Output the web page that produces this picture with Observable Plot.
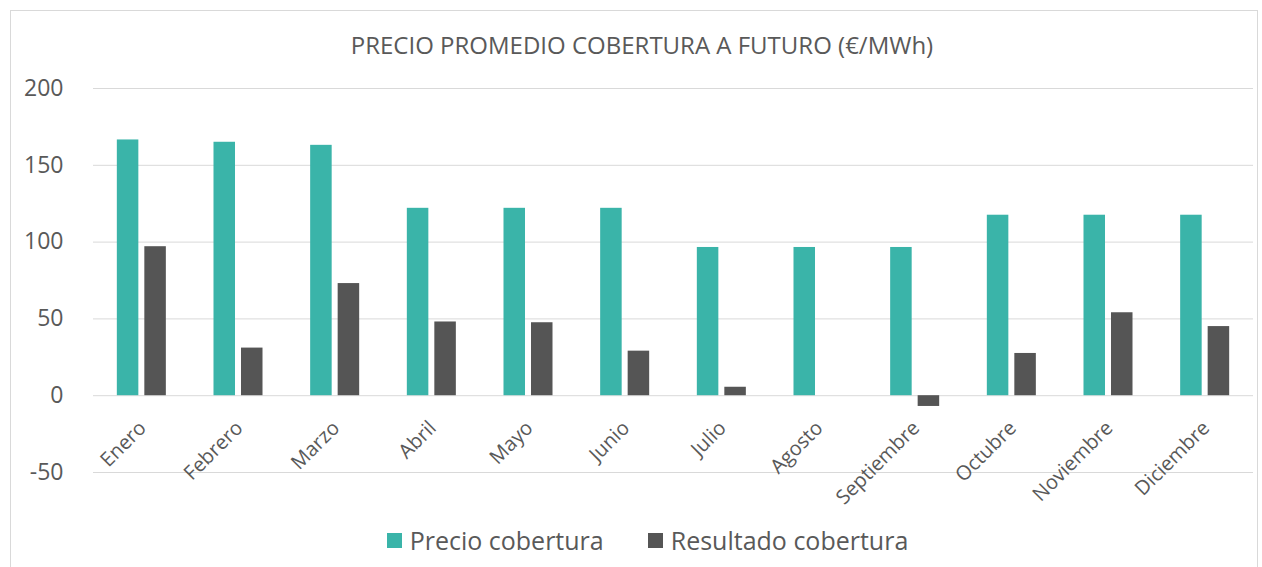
<!DOCTYPE html>
<html>
<head>
<meta charset="utf-8">
<script src="https://cdn.jsdelivr.net/npm/d3@7"></script>
<script src="https://cdn.jsdelivr.net/npm/@observablehq/plot@0.6"></script>
<style>
  html, body { margin: 0; padding: 0; background: #fff; }
  body { width: 1262px; height: 567px; overflow: hidden; position: relative; font-family: "Open Sans", sans-serif; color: #595959; }
  #frame { position: absolute; left: 10px; top: 10px; width: 1246px; height: 600px; border: 1px solid #D9D9D9; pointer-events: none; }
  #title { height: 70px; box-sizing: border-box; padding-top: 30px; text-align: center; font-size: 24px; line-height: 30px; padding-left: 22px; white-space: nowrap; }
  #chart svg { display: block; overflow: visible; }
  #legend { height: 40px; display: flex; justify-content: center; align-items: center; font-size: 25px; padding-left: 33px; }
  .item { display: flex; align-items: center; margin: 0 22px; }
  .sw { width: 15px; height: 15px; margin-right: 8px; }
</style>
</head>
<body>
<div id="frame"></div>
<div id="title"></div>
<div id="chart"></div>
<div id="legend"></div>
<script>
const titleText = "PRECIO PROMEDIO COBERTURA A FUTURO (€/MWh)";
const months = ["Enero", "Febrero", "Marzo", "Abril", "Mayo", "Junio", "Julio", "Agosto", "Septiembre", "Octubre", "Noviembre", "Diciembre"];
const series = ["Precio cobertura", "Resultado cobertura"];
const precioCobertura = [166.5, 165, 163, 122, 122, 122, 96.5, 96.5, 96.5, 117.5, 117.5, 117.5];
const resultadoCobertura = [97, 31, 73, 48, 47.5, 29, 5.5, 0, -7, 27.5, 54, 45];
const yTicks = [-50, 0, 50, 100, 150, 200];
const colors = ["#3AB4A9", "#555555"];

const precioData = months.map((m, i) => ({month: m, series: series[0], value: precioCobertura[i]}));
const resultadoData = months.map((m, i) => ({month: m, series: series[1], value: resultadoCobertura[i]}));

document.getElementById("title").textContent = titleText;

const chart = Plot.plot({
  width: 1262,
  height: 450,
  marginTop: 18,
  marginBottom: 48,
  marginLeft: 93,
  marginRight: 9,
  style: {fontFamily: "'Open Sans', sans-serif", color: "#595959", background: "transparent", overflow: "visible"},
  x: {domain: months, paddingInner: 0.493, paddingOuter: 0.2465, round: false, axis: null, label: null},
  y: {domain: [-50, 200], label: null},
  color: {domain: series, range: colors},
  marks: [
    Plot.gridY(yTicks, {stroke: "#D9D9D9", strokeOpacity: 1, strokeWidth: 1}),
    Plot.axisY(yTicks, {tickSize: 0, tickPadding: 30, fontSize: 23, label: null, tickFormat: d => String(d)}),
    Plot.barY(precioData, {x: "month", y: "value", fill: "series", insetRight: 27.5}),
    Plot.barY(resultadoData, {x: "month", y: "value", fill: "series", insetLeft: 27.5}),
    Plot.text(months, {x: d => d, y: () => 0, text: d => d, rotate: -45, textAnchor: "end", fontSize: 20, dx: 1, dy: 29, fill: "#595959"})
  ]
});
document.getElementById("chart").appendChild(chart);

const legend = document.getElementById("legend");
series.forEach((s, i) => {
  const it = document.createElement("div");
  it.className = "item";
  const sw = document.createElement("div");
  sw.className = "sw";
  sw.style.background = colors[i];
  const t = document.createElement("span");
  t.textContent = s;
  it.appendChild(sw); it.appendChild(t);
  legend.appendChild(it);
});
</script>
</body>
</html>
